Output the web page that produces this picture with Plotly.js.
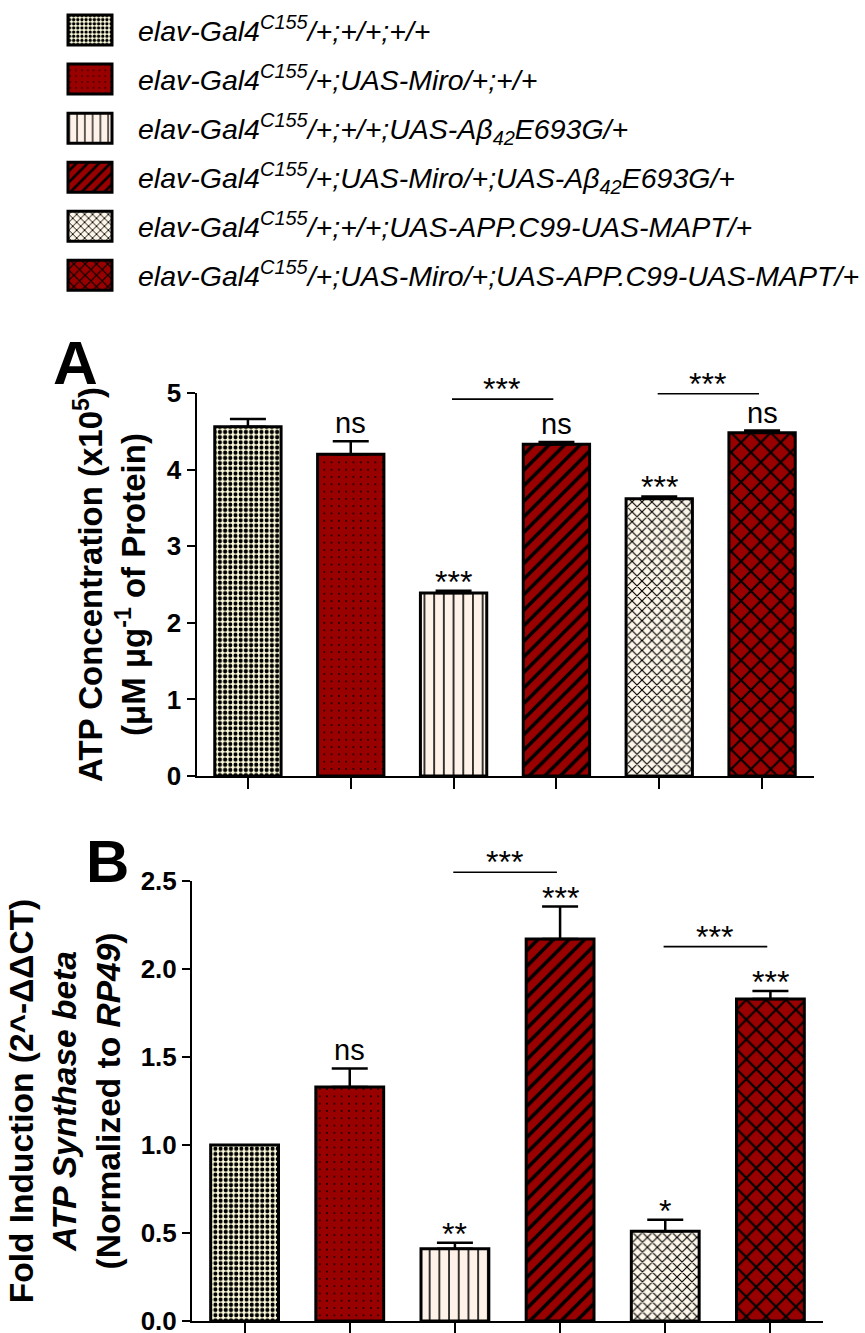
<!DOCTYPE html>
<html>
<head>
<meta charset="utf-8">
<script src="https://cdn.plot.ly/plotly-3.0.1.min.js"></script>
<style>
  html, body { margin: 0; padding: 0; background: #ffffff; }
  #chart { width: 865px; height: 1333px; }
</style>
</head>
<body>
<div id="chart"></div>
<script>
// ---------------- DATA ----------------
const genotypes = [
  'elav-Gal4<sup>C155</sup>/+;+/+;+/+',
  'elav-Gal4<sup>C155</sup>/+;UAS-Miro/+;+/+',
  'elav-Gal4<sup>C155</sup>/+;+/+;UAS-Aβ<sub>42</sub>E693G/+',
  'elav-Gal4<sup>C155</sup>/+;UAS-Miro/+;UAS-Aβ<sub>42</sub>E693G/+',
  'elav-Gal4<sup>C155</sup>/+;+/+;UAS-APP.C99-UAS-MAPT/+',
  'elav-Gal4<sup>C155</sup>/+;UAS-Miro/+;UAS-APP.C99-UAS-MAPT/+'
];
const groupIndex = [0, 1, 2, 3, 4, 5];

// Panel A: ATP concentration (x10^5 µM µg-1 protein)
const atpValues = [4.56, 4.20, 2.39, 4.33, 3.62, 4.48];
const atpErrors = [0.10, 0.17, 0.03, 0.03, 0.03, 0.03];
const atpSig    = ['', 'ns', '***', 'ns', '***', 'ns'];
const atpPairFrom = [2, 4];
const atpPairTo   = [3, 5];
const atpPairY    = [4.92, 4.99];
const atpPairSig  = ['***', '***'];

// Panel B: fold induction ATP synthase beta
const foldValues = [1.00, 1.33, 0.41, 2.17, 0.51, 1.83];
const foldErrors = [0.00, 0.105, 0.035, 0.185, 0.065, 0.045];
const foldSig    = ['', 'ns', '**', '***', '*', '***'];
const foldPairFrom = [2, 4];
const foldPairTo   = [3, 5];
const foldPairY    = [2.55, 2.127];
const foldPairSig  = ['***', '***'];

// ---------------- STYLE ----------------
const FONT = 'Liberation Sans, Arial, Helvetica, sans-serif';
const DARK = '#990000';
const fillColors = ['#fbf9d9', DARK, '#fff2e8', DARK, '#fdf6e9', DARK];
const patternStyles = [
  {shape: '.', size: 5.2, solidity: 0.5},
  {shape: '.', size: 7.3, solidity: 0.045},
  {shape: '|', size: 9.7, solidity: 0.16},
  {shape: '/', size: 11, solidity: 0.32},
  {shape: 'x', size: 7, solidity: 0.3},
  {shape: 'x', size: 14, solidity: 0.27}
];

function barTrace(i, values, errors, xa, ya, showLeg) {
  const p = patternStyles[i];
  return {
    type: 'bar',
    x: [groupIndex[i]],
    y: [values[i]],
    xaxis: xa, yaxis: ya,
    name: genotypes[i],
    legendgroup: 'g' + i,
    showlegend: showLeg,
    width: 0.645,
    marker: {
      color: fillColors[i],
      line: {color: '#000000', width: 3},
      pattern: {
        shape: p.shape, size: p.size, solidity: p.solidity,
        fgcolor: '#000000', fgopacity: 1, bgcolor: fillColors[i], fillmode: 'replace'
      }
    },
    error_y: {
      type: 'data', symmetric: false,
      array: [errors[i]], arrayminus: [0],
      visible: errors[i] > 0,
      color: '#000000', thickness: 2.5, width: 18
    },
    hoverinfo: 'skip'
  };
}

const data = [];
groupIndex.forEach(i => data.push(barTrace(i, atpValues, atpErrors, 'x', 'y', true)));
groupIndex.forEach(i => data.push(barTrace(i, foldValues, foldErrors, 'x2', 'y2', false)));

const annotations = [];
function sigAnnots(values, errors, sig, xr, yr) {
  sig.forEach((s, i) => {
    if (!s) return;
    const star = s.indexOf('*') >= 0;
    annotations.push({
      x: groupIndex[i], y: values[i] + errors[i], xref: xr, yref: yr,
      text: s, showarrow: false, yanchor: 'bottom',
      yshift: star ? -11 : 0,
      font: {family: FONT, size: star ? 32 : 29, color: '#000'}
    });
  });
}
// brackets above the axis top are pinned to the top of the range and lifted in pixels
function pairAnnots(from, to, ys, sig, xr, yr, yTop, pxPerUnit) {
  from.forEach((f, k) => {
    const a = f - 0.03, b = to[k] - 0.03;
    const yy = Math.min(ys[k], yTop);
    const lift = Math.max(0, ys[k] - yTop) * pxPerUnit;
    annotations.push({
      x: b, y: yy, ax: a, ay: yy, xref: xr, yref: yr, axref: xr, ayref: yr,
      yshift: lift,
      text: '', showarrow: true, arrowhead: 0, arrowwidth: 1.6, arrowcolor: '#000',
      standoff: 0, startstandoff: 0
    });
    annotations.push({
      x: (a + b) / 2, y: yy, xref: xr, yref: yr,
      text: sig[k], showarrow: false, yanchor: 'bottom', yshift: lift - 10,
      font: {family: FONT, size: 32, color: '#000'}
    });
  });
}
sigAnnots(atpValues, atpErrors, atpSig, 'x', 'y');
sigAnnots(foldValues, foldErrors, foldSig, 'x2', 'y2');
pairAnnots(atpPairFrom, atpPairTo, atpPairY, atpPairSig, 'x', 'y', 5, 383 / 5);
pairAnnots(foldPairFrom, foldPairTo, foldPairY, foldPairSig, 'x2', 'y2', 2.5, 440 / 2.5);

annotations.push({text: 'A', xref: 'paper', yref: 'paper', x: 75 / 865, y: 1 - 362 / 1333,
  xanchor: 'center', yanchor: 'middle', showarrow: false,
  font: {family: FONT, size: 62, weight: 'bold', color: '#000'}});
annotations.push({text: 'B', xref: 'paper', yref: 'paper', x: 107 / 865, y: 1 - 861 / 1333,
  xanchor: 'center', yanchor: 'middle', showarrow: false,
  font: {family: FONT, size: 60, weight: 'bold', color: '#000'}});

const xCommon = {
  range: [-0.5, 5.5], tickvals: groupIndex, showticklabels: false,
  ticks: 'outside', ticklen: 11, tickwidth: 2, tickcolor: '#000',
  showline: true, linewidth: 2, linecolor: '#000',
  showgrid: false, zeroline: false, fixedrange: true
};
const yCommon = {
  ticks: 'outside', ticklen: 8, tickwidth: 2, tickcolor: '#000',
  showline: true, linewidth: 2, linecolor: '#000',
  showgrid: false, zeroline: false, fixedrange: true,
  ticklabeloverflow: 'allow',
  tickfont: {family: FONT, size: 26, weight: 'bold', color: '#000'}
};

const layout = {
  width: 865, height: 1333,
  margin: {l: 0, r: 0, t: 0, b: 0},
  paper_bgcolor: '#fff', plot_bgcolor: 'rgba(0,0,0,0)',
  barmode: 'overlay',
  showlegend: true,
  legend: {
    x: 0.07, y: 1 - 5 / 1333, xanchor: 'left', yanchor: 'top',
    font: {family: FONT, size: 28.5, style: 'italic', color: '#000'},
    tracegroupgap: 9, itemwidth: 73, bgcolor: 'rgba(0,0,0,0)'
  },
  xaxis: Object.assign({}, xCommon, {domain: [196.5 / 865, 813.5 / 865], anchor: 'y'}),
  yaxis: Object.assign({}, yCommon, {
    domain: [1 - 776 / 1333, 1 - 393 / 1333], anchor: 'x',
    range: [0, 5], dtick: 1, tick0: 0,
    title: {text: 'ATP Concentration (x10<sup>5</sup>)<br>(μM μg<sup>-1</sup> of Protein)',
      font: {family: FONT, size: 33, weight: 'bold', color: '#000'}, standoff: 11}
  }),
  xaxis2: Object.assign({}, xCommon, {domain: [192 / 865, 823 / 865], anchor: 'y2'}),
  yaxis2: Object.assign({}, yCommon, {
    domain: [1 - 1321 / 1333, 1 - 881 / 1333], anchor: 'x2',
    range: [0, 2.5], dtick: 0.5, tick0: 0, tickformat: '.1f',
    title: {text: 'Fold Induction (2^-ΔΔCT)<br><i>ATP Synthase beta</i><br>(Normalized to <i>RP49</i>)',
      font: {family: FONT, size: 33.5, weight: 'bold', color: '#000'}, standoff: 10}
  }),
  annotations: annotations
};

const gd = document.getElementById('chart');
Plotly.newPlot(gd, data, layout, {staticPlot: true, displayModeBar: false}).then(() => {
  // enlarge legend swatches to match the reference's big patterned boxes
  gd.querySelectorAll('.legend .legendpoints path').forEach(p => {
    p.setAttribute('d', 'M15.5,15H-28.5V-15H15.5Z');
  });
});
</script>
</body>
</html>
